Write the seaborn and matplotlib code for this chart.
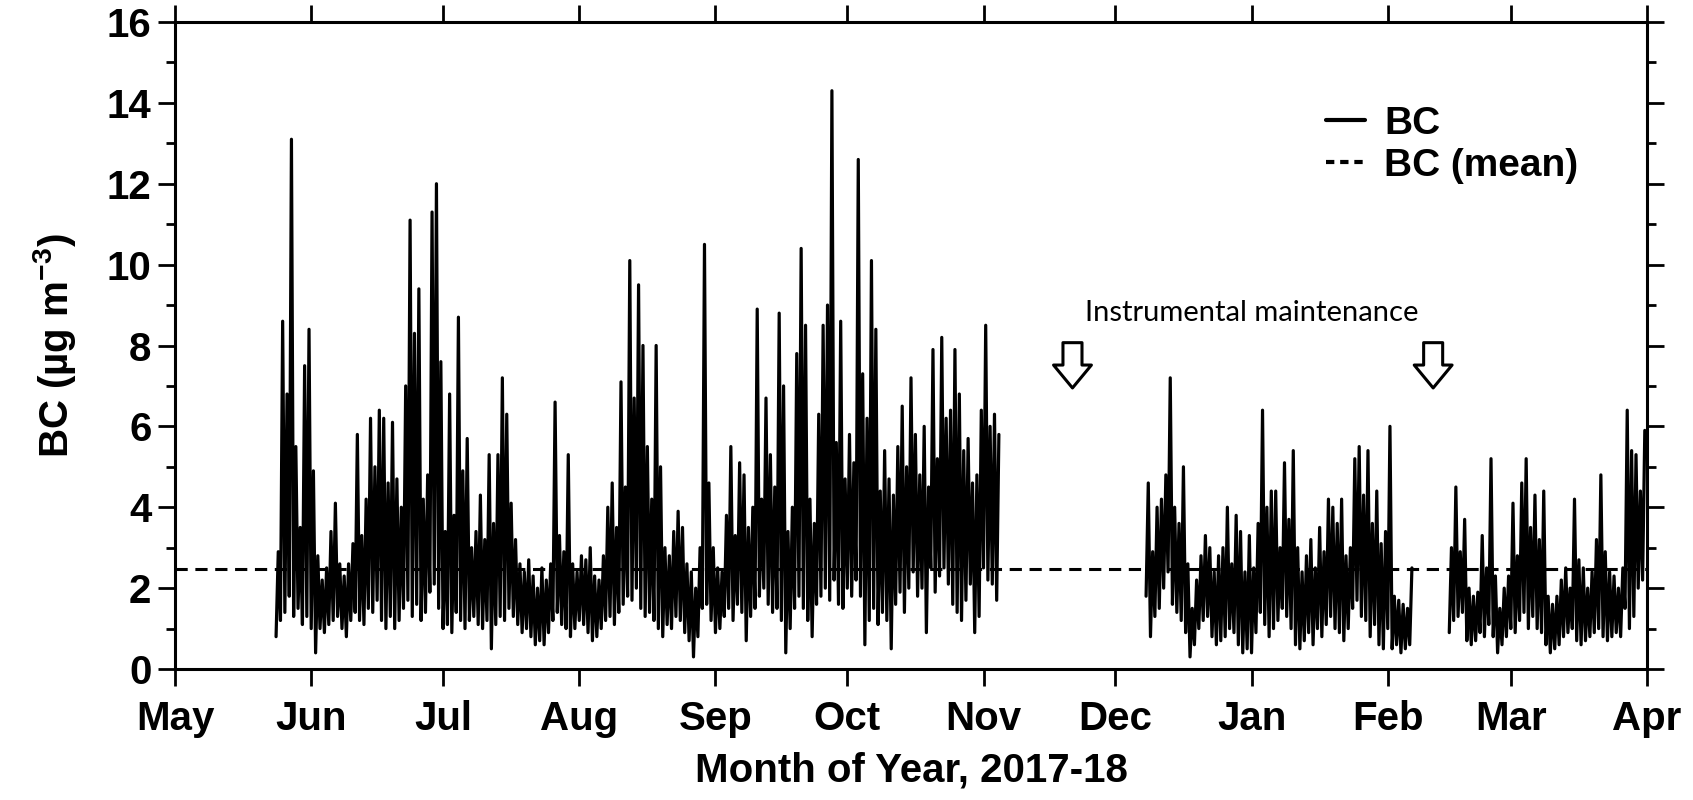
import matplotlib
matplotlib.use("Agg")
import matplotlib.pyplot as plt
import matplotlib.dates as mdates
from matplotlib.lines import Line2D
import pandas as pd
import seaborn as sns

# ---- data: daily trough / peak of BC (ug m-3) for the three measurement periods ----
seg_starts = ["2017-05-24", "2017-12-08", "2018-02-15"]

seg1_peak = [
    2.9, 8.6, 6.8, 13.1, 5.5, 3.5, 7.5, 8.4, 4.9, 2.8,
    2.2, 2.5, 3.4, 4.1, 2.6, 2.3, 2.6, 3.1, 5.8, 3.3,
    4.2, 6.2, 5.0, 6.4, 6.2, 4.6, 6.1, 4.7, 4.0, 7.0,
    11.1, 8.3, 9.4, 4.2, 4.8, 11.3, 12.0, 7.6, 3.4, 6.8,
    3.8, 8.7, 4.9, 5.7, 3.0, 3.4, 4.3, 3.2, 5.3, 3.6,
    5.3, 7.2, 6.3, 4.1, 3.2, 2.6, 2.4, 2.7, 2.3, 2.0,
    2.5, 2.2, 2.6, 6.6, 3.3, 2.9, 5.3, 2.6, 2.4, 2.8,
    2.7, 3.0, 2.3, 2.2, 2.8, 4.0, 4.6, 3.5, 7.1, 4.5,
    10.1, 6.7, 9.5, 8.0, 5.5, 4.2, 8.0, 5.0, 3.0, 2.8,
    3.4, 3.9, 3.5, 2.6, 2.4, 2.0, 3.0, 10.5, 4.6, 3.0,
    2.5, 2.4, 3.8, 5.5, 3.3, 5.1, 4.8, 3.5, 4.0, 8.9,
    4.2, 6.7, 5.3, 4.5, 8.8, 7.0, 3.4, 4.0, 7.8, 10.4,
    8.5, 4.2, 3.6, 6.3, 8.5, 9.0, 14.3, 5.6, 8.6, 4.7,
    5.8, 5.1, 12.6, 7.3, 6.2, 10.1, 8.4, 4.4, 5.4, 4.7,
    4.3, 5.5, 6.5, 5.0, 7.2, 5.8, 4.8, 6.0, 4.5, 7.9,
    5.2, 8.2, 6.2, 6.4, 7.9, 6.8, 5.4, 5.7, 4.6, 4.8,
    6.4, 8.5, 6.0, 6.3, 5.8,
]
seg1_low = [
    0.8, 1.2, 1.4, 1.8, 1.3, 1.5, 1.1, 1.3, 1.0, 0.4,
    1.0, 0.9, 1.1, 1.2, 1.3, 1.0, 0.8, 1.2, 1.4, 1.2,
    1.1, 1.5, 1.4, 1.7, 1.2, 1.0, 1.3, 1.0, 1.2, 1.5,
    1.7, 1.3, 1.6, 1.2, 1.4, 1.9, 2.1, 1.5, 1.0, 1.1,
    0.9, 1.4, 1.2, 1.0, 1.2, 1.3, 1.1, 1.0, 1.2, 0.5,
    1.1, 1.3, 1.2, 1.5, 1.3, 1.1, 0.9, 1.0, 0.8, 0.6,
    0.7, 0.6, 0.9, 1.2, 1.4, 1.1, 1.0, 0.8, 1.0, 1.2,
    1.1, 0.9, 0.7, 0.8, 1.0, 1.2, 1.3, 1.1, 1.4, 1.6,
    1.8, 1.7, 2.0, 1.5, 1.3, 1.4, 1.2, 1.0, 0.8, 1.1,
    1.0, 1.3, 1.2, 0.9, 0.7, 0.3, 0.8, 1.5, 1.6, 1.2,
    0.9, 1.0, 1.3, 1.5, 1.2, 1.6, 1.4, 0.7, 1.3, 1.5,
    1.8, 2.0, 1.6, 1.4, 1.5, 1.2, 0.4, 1.0, 1.5, 1.8,
    1.5, 1.2, 0.8, 1.6, 1.8, 2.0, 1.7, 2.2, 1.6, 1.5,
    2.0, 1.8, 2.2, 1.8, 0.6, 1.2, 1.5, 1.1, 1.4, 1.2,
    0.5, 1.6, 1.9, 1.4, 2.0, 2.4, 1.8, 2.0, 0.9, 2.5,
    1.9, 2.3, 2.5, 2.1, 1.6, 1.4, 1.2, 1.7, 2.1, 0.9,
    1.3, 2.5, 2.2, 2.1, 1.7,
]

seg2_peak = [
    4.6, 2.9, 4.0, 4.2, 4.8, 7.2, 4.0, 3.6, 5.0, 2.6,
    1.5, 2.2, 2.8, 3.3, 3.0, 2.4, 2.8, 3.0, 4.0, 2.6,
    3.8, 3.4, 2.4, 3.3, 2.5, 3.6, 6.4, 4.0, 4.4, 4.4,
    3.0, 5.1, 3.7, 5.4, 3.0, 2.4, 2.8, 3.2, 2.5, 3.5,
    2.9, 4.2, 4.0, 3.6, 4.2, 2.8, 3.0, 5.2, 5.5, 4.3,
    5.4, 3.6, 4.4, 3.1, 3.4, 6.0, 1.8, 1.7, 1.6, 1.5,
    2.5,
]
seg2_low = [
    1.8, 0.8, 1.3, 1.5, 2.0, 2.4, 1.6, 1.4, 1.2, 0.9,
    0.3, 0.6, 1.0, 1.2, 1.3, 0.8, 0.6, 0.7, 0.8, 1.0,
    0.9, 0.6, 0.4, 0.5, 0.4, 0.9, 1.4, 1.1, 0.8, 1.0,
    1.2, 1.5, 1.3, 1.0, 0.6, 0.5, 0.7, 0.9, 0.6, 1.0,
    0.8, 1.1, 1.3, 1.0, 0.9, 0.7, 1.0, 1.5, 1.7, 1.3,
    1.2, 0.8, 1.1, 0.6, 0.5, 1.0, 0.5, 0.6, 0.4, 0.5,
    0.6,
]

seg3_peak = [
    3.0, 4.5, 2.9, 3.7, 2.0, 1.8, 1.9, 3.3, 2.5, 5.2,
    2.3, 1.5, 2.0, 2.3, 4.1, 2.8, 4.6, 5.2, 3.5, 4.3,
    3.2, 4.4, 1.8, 1.6, 1.8, 2.2, 2.5, 2.0, 4.2, 2.7,
    2.5, 2.0, 2.4, 3.2, 4.8, 2.9, 2.4, 2.3, 2.0, 2.5,
    6.4, 5.4, 5.3, 4.4, 5.9,
]
seg3_low = [
    0.9, 1.2, 1.3, 1.4, 0.7, 0.6, 0.7, 0.9, 0.8, 1.1,
    0.8, 0.4, 0.6, 0.8, 1.0, 0.9, 1.2, 1.4, 1.0, 1.3,
    1.0, 0.9, 0.6, 0.4, 0.5, 0.6, 0.8, 0.9, 1.0, 0.7,
    0.6, 0.7, 0.8, 0.9, 1.0, 0.8, 0.7, 0.8, 0.9, 0.8,
    1.5, 1.0, 1.3, 2.0, 2.2,
]

bc_mean = 2.47

month_ticks_start = "2017-05-01"
month_ticks_end = "2018-04-01"

maint_label = "Instrumental maintenance"
maint_label_date = "2018-01-01 00:00"
maint_label_y = 8.8
maint_arrow_dates = ["2017-11-21 06:00", "2018-02-11 08:00"]
maint_arrow_top = 8.07
maint_arrow_tip = 6.95

# ---- long-form table: trough at the start of each day, peak at midday ----
rows = []
segments = [(seg1_low, seg1_peak), (seg2_low, seg2_peak), (seg3_low, seg3_peak)]
for seg_id, (start, (lows, peaks)) in enumerate(zip(seg_starts, segments)):
    t0 = pd.Timestamp(start)
    for i, (lo, hi) in enumerate(zip(lows, peaks)):
        day = t0 + pd.Timedelta(days=i)
        rows.append((seg_id, day, lo))
        rows.append((seg_id, day + pd.Timedelta(hours=12), hi))
df = pd.DataFrame(rows, columns=["segment", "time", "bc"])

# ---- style ----
sns.set_theme(style="ticks")
plt.rcParams["font.family"] = ["Liberation Sans", "DejaVu Sans"]
plt.rcParams["font.weight"] = "bold"
plt.rcParams["mathtext.fontset"] = "custom"
plt.rcParams["mathtext.rm"] = "Liberation Sans:bold"
plt.rcParams["mathtext.bf"] = "Liberation Sans:bold"
plt.rcParams["mathtext.it"] = "Liberation Sans:bold"
plt.rcParams["axes.linewidth"] = 2.2
for key in ["text.color", "axes.labelcolor", "xtick.color", "ytick.color",
            "axes.edgecolor", "xtick.labelcolor", "ytick.labelcolor"]:
    plt.rcParams[key] = "black"

fig = plt.figure(figsize=(16.93, 8.0), dpi=100)
ax = fig.add_axes([175 / 1693, 1 - 669 / 800, (1647 - 175) / 1693, (669 - 22) / 800])

sns.lineplot(data=df, x="time", y="bc", units="segment", estimator=None,
             color="black", lw=2.3, ax=ax, legend=False)
ax.axhline(bc_mean, color="black", lw=2.2, ls=(0, (4.0, 2.5)))

# ---- axes ----
ax.set_xlim(pd.Timestamp(month_ticks_start), pd.Timestamp(month_ticks_end))
ax.xaxis.set_major_locator(mdates.MonthLocator())
ax.xaxis.set_major_formatter(mdates.DateFormatter("%b"))
ax.set_ylim(0, 16)
ax.set_yticks(range(0, 17, 2))
ax.set_yticks(range(1, 16, 2), minor=True)

ax.tick_params(axis="both", which="major", direction="out", length=12, width=2,
               labelsize=29, top=True, right=True, color="black", labelcolor="black")
ax.tick_params(axis="y", which="minor", direction="out", length=6.5, width=2,
               right=True, color="black")
ax.tick_params(axis="x", which="major", pad=10)
ax.tick_params(axis="y", which="major", pad=5)
for lab in ax.get_xticklabels() + ax.get_yticklabels():
    lab.set_fontweight("bold")

for sp in ax.spines.values():
    sp.set_visible(True)
    sp.set_linewidth(2.2)
    sp.set_color("black")

ax.set_xlabel("Month of Year, 2017-18", fontsize=29, fontweight="bold", color="black")
ax.set_ylabel("BC (µg m$^{-3}$)", fontsize=29, fontweight="bold", color="black")
ax.xaxis.set_label_coords(0.5, -0.128)
ax.yaxis.set_label_coords(-0.066, 0.5)

# ---- legend ----
handles = [
    Line2D([], [], color="black", lw=3.0),
    Line2D([], [], color="black", lw=3.0, ls=(0, (2.0, 1.4))),
]
fig.legend(handles, ["BC", "BC (mean)"], loc="upper left",
           bbox_to_anchor=(1326 / 1693, 1 - 106 / 800), frameon=False,
           prop={"weight": "bold", "size": 28}, labelcolor="black",
           handlelength=1.0, handletextpad=0.5, labelspacing=0.15,
           borderpad=0, borderaxespad=0)

# ---- maintenance annotation ----
ax.text(pd.Timestamp(maint_label_date), maint_label_y, maint_label,
        ha="center", va="center", fontsize=21, fontweight="normal", color="black",
        family=["Lato", "DejaVu Sans"])
for d in maint_arrow_dates:
    ax.annotate("", xy=(pd.Timestamp(d), maint_arrow_tip),
                xytext=(pd.Timestamp(d), maint_arrow_top),
                arrowprops=dict(arrowstyle="simple,head_length=1.65,head_width=2.73,tail_width=1.37",
                                fc="white", ec="black", lw=2.2,
                                shrinkA=0, shrinkB=0, mutation_scale=10))

fig.savefig("out.png", dpi=100)
